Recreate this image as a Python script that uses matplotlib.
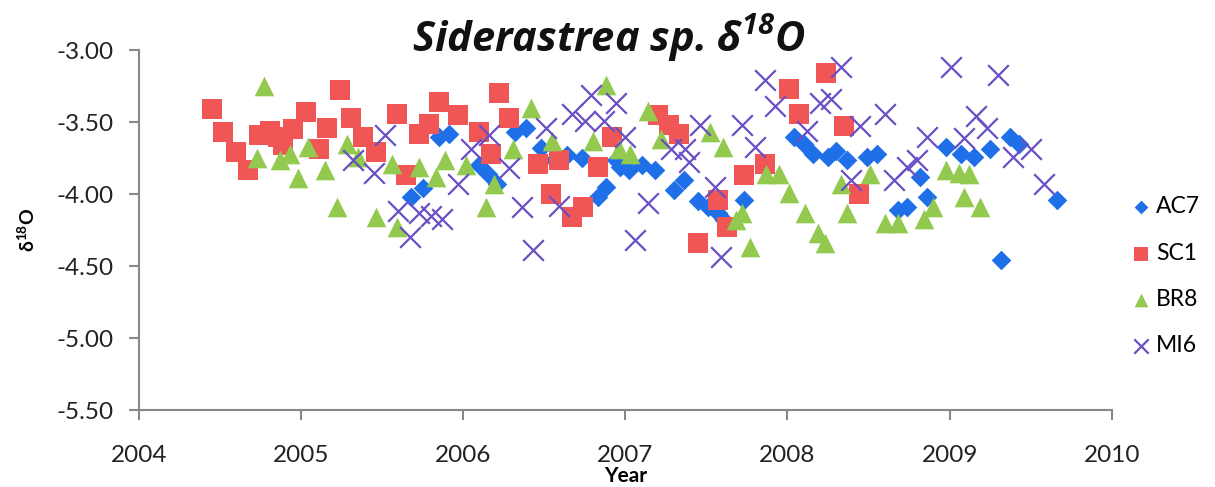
import matplotlib
matplotlib.use("Agg")
import matplotlib.pyplot as plt

# coral delta-18O time series, one pair of lists per colony
ac7_year = [2005.68, 2005.75, 2005.85, 2005.91, 2006.10, 2006.15, 2006.21, 2006.32,
            2006.39, 2006.48, 2006.56, 2006.64, 2006.73, 2006.83, 2006.88, 2006.94,
            2006.97, 2007.02, 2007.10, 2007.18, 2007.30, 2007.36, 2007.45, 2007.51,
            2007.57, 2007.61, 2007.73, 2008.04, 2008.10, 2008.16, 2008.25, 2008.30,
            2008.37, 2008.49, 2008.55, 2008.68, 2008.74, 2008.82, 2008.86, 2008.98,
            2009.07, 2009.15, 2009.25, 2009.32, 2009.37, 2009.43, 2009.66]
ac7_d18o = [-4.02, -3.96, -3.60, -3.58, -3.80, -3.86, -3.93, -3.57,
            -3.54, -3.68, -3.76, -3.73, -3.75, -4.02, -3.95, -3.76,
            -3.81, -3.83, -3.80, -3.83, -3.97, -3.90, -4.05, -4.09,
            -4.13, -4.18, -4.04, -3.60, -3.65, -3.72, -3.74, -3.70,
            -3.76, -3.74, -3.72, -4.11, -4.09, -3.88, -4.02, -3.67,
            -3.72, -3.74, -3.69, -4.46, -3.60, -3.65, -4.04]

sc1_year = [2004.45, 2004.52, 2004.60, 2004.67, 2004.74, 2004.81, 2004.86, 2004.89,
            2004.95, 2005.03, 2005.11, 2005.16, 2005.24, 2005.31, 2005.38, 2005.46,
            2005.59, 2005.65, 2005.73, 2005.79, 2005.85, 2005.97, 2006.10, 2006.17,
            2006.22, 2006.28, 2006.46, 2006.54, 2006.59, 2006.67, 2006.74, 2006.83,
            2006.92, 2007.20, 2007.27, 2007.33, 2007.45, 2007.57, 2007.63, 2007.73,
            2007.86, 2008.01, 2008.07, 2008.24, 2008.35, 2008.44]
sc1_d18o = [-3.41, -3.57, -3.71, -3.83, -3.59, -3.56, -3.60, -3.66,
            -3.55, -3.43, -3.69, -3.54, -3.28, -3.47, -3.60, -3.71,
            -3.44, -3.87, -3.58, -3.51, -3.36, -3.45, -3.57, -3.72,
            -3.30, -3.47, -3.79, -4.00, -3.76, -4.16, -4.09, -3.81,
            -3.60, -3.45, -3.52, -3.58, -4.34, -4.04, -4.23, -3.87,
            -3.79, -3.27, -3.44, -3.16, -3.53, -4.00]

br8_year = [2004.73, 2004.77, 2004.87, 2004.93, 2004.98, 2005.04, 2005.15, 2005.22,
            2005.28, 2005.35, 2005.46, 2005.56, 2005.59, 2005.73, 2005.83, 2005.89,
            2006.02, 2006.14, 2006.19, 2006.31, 2006.42, 2006.55, 2006.80, 2006.88,
            2006.96, 2007.03, 2007.14, 2007.22, 2007.52, 2007.60, 2007.68, 2007.72,
            2007.77, 2007.87, 2007.95, 2008.01, 2008.11, 2008.19, 2008.23, 2008.33,
            2008.37, 2008.51, 2008.60, 2008.68, 2008.84, 2008.90, 2008.98, 2009.06,
            2009.09, 2009.12, 2009.19]
br8_d18o = [-3.75, -3.25, -3.76, -3.72, -3.89, -3.67, -3.83, -4.09,
            -3.65, -3.74, -4.16, -3.79, -4.23, -3.81, -3.88, -3.76,
            -3.80, -4.09, -3.93, -3.69, -3.40, -3.63, -3.63, -3.24,
            -3.69, -3.72, -3.42, -3.62, -3.57, -3.67, -4.18, -4.13,
            -4.37, -3.86, -3.86, -3.99, -4.13, -4.27, -4.34, -3.93,
            -4.13, -3.86, -4.20, -4.20, -4.17, -4.09, -3.83, -3.85,
            -4.02, -3.86, -4.09]

mi6_year = [2005.32, 2005.45, 2005.52, 2005.60, 2005.67, 2005.73, 2005.80, 2005.87,
            2005.97, 2006.05, 2006.16, 2006.28, 2006.36, 2006.43, 2006.51, 2006.59,
            2006.67, 2006.75, 2006.79, 2006.87, 2006.94, 2007.00, 2007.06, 2007.14,
            2007.28, 2007.37, 2007.39, 2007.46, 2007.55, 2007.59, 2007.72, 2007.80,
            2007.86, 2007.92, 2008.12, 2008.20, 2008.27, 2008.33, 2008.39, 2008.45,
            2008.60, 2008.66, 2008.74, 2008.80, 2008.86, 2009.01, 2009.09, 2009.16,
            2009.23, 2009.30, 2009.39, 2009.50, 2009.58]
mi6_d18o = [-3.76, -3.85, -3.59, -4.12, -4.30, -4.13, -4.15, -4.17,
            -3.93, -3.69, -3.59, -3.82, -4.09, -4.39, -3.54, -4.08,
            -3.44, -3.49, -3.31, -3.49, -3.37, -3.60, -4.32, -4.06,
            -3.69, -3.69, -3.78, -3.52, -3.95, -4.44, -3.52, -3.67,
            -3.21, -3.39, -3.56, -3.37, -3.34, -3.12, -3.90, -3.53,
            -3.44, -3.90, -3.81, -3.76, -3.60, -3.12, -3.61, -3.46,
            -3.54, -3.17, -3.74, -3.69, -3.93]

plt.rcParams['font.family'] = ['Lato', 'DejaVu Sans']
plt.rcParams['mathtext.default'] = 'regular'

fig = plt.figure(figsize=(12.15, 4.87), dpi=100)
ax = fig.add_axes([0.1144, 0.158, 0.8006, 0.739])

ax.scatter(ac7_year, ac7_d18o, marker='D', s=100, color='#1f70e8', linewidths=0, label='AC7', zorder=3)
ax.scatter(sc1_year, sc1_d18o, marker='s', s=210, color='#f05656', linewidths=0, label='SC1', zorder=3)
ax.scatter(br8_year, br8_d18o, marker='^', s=200, color='#92c94e', linewidths=0, label='BR8', zorder=3)
ax.scatter(mi6_year, mi6_d18o, marker='x', s=220, color='#6a4fc4', linewidths=1.6, label='MI6', zorder=3)

ax.set_xlim(2004, 2010)
ax.set_ylim(-5.5, -3.0)
ax.set_xticks(range(2004, 2011))
ax.set_yticks([-3.0, -3.5, -4.0, -4.5, -5.0, -5.5])
ax.yaxis.set_major_formatter(matplotlib.ticker.FormatStrFormatter('%.2f'))

for side in ['top', 'right']:
    ax.spines[side].set_visible(False)
for side in ['left', 'bottom']:
    ax.spines[side].set_color('#888888')
    ax.spines[side].set_linewidth(1.5)
ax.tick_params(direction='out', length=7, width=1.5, color='#888888',
               labelsize=17.5, labelcolor='#222222')
ax.tick_params(axis='x', pad=18)
ax.tick_params(axis='y', pad=11)

ax.set_xlabel('Year', fontsize=15, fontweight='bold', labelpad=0)
ax.set_ylabel('δ$^{18}$O', fontsize=14, fontweight='bold', labelpad=14)

fig.text(0.501, 0.922, 'Siderastrea sp. δ$^{18}$O', ha='center', va='center',
         fontsize=30, fontweight='bold', fontstyle='italic', color='#111111',
         family='Open Sans')

fig.legend(loc='center left', bbox_to_anchor=(0.912, 0.433), frameon=False,
           fontsize=16.5, labelspacing=1.1, handletextpad=0.1, markerscale=0.7,
           handlelength=1.1)

fig.savefig('out.png', dpi=100)
